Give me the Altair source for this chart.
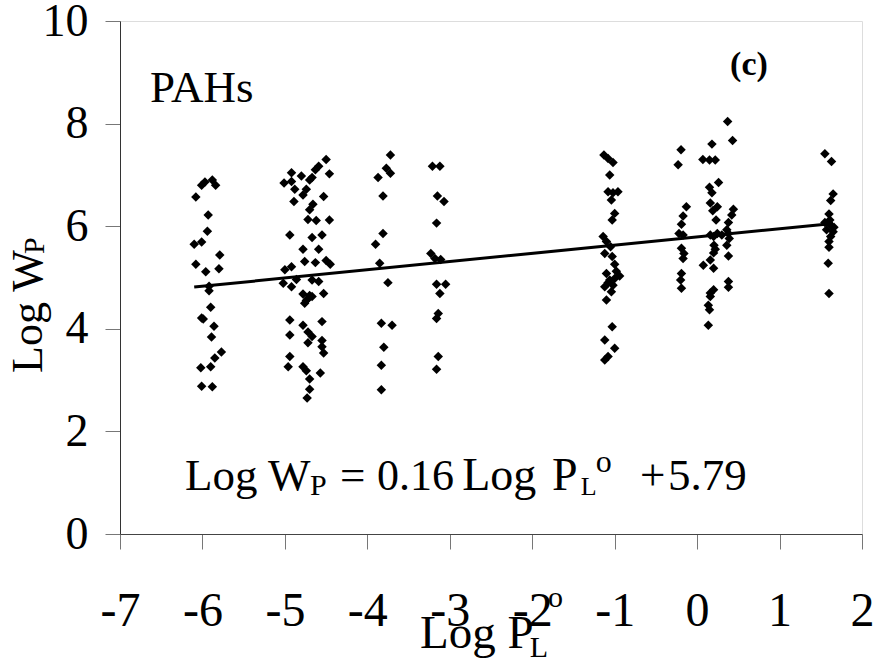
import altair as alt
import pandas as pd

# ---------------- data ----------------
# cluster near Log PL = -6
a_x = [-6.01, -5.97, -5.88, -5.84, -6.08, -5.93, -5.94, -6.10, -6.01, -5.79, -6.08, -5.96,
       -5.80, -5.92, -5.92, -5.90, -6.01, -5.99, -5.86, -5.89, -5.77, -5.85, -5.90, -6.02,
       -6.01, -5.88]
a_y = [6.80, 6.86, 6.90, 6.80, 6.57, 6.22, 5.90, 5.65, 5.69, 5.44, 5.26, 5.11,
       5.17, 4.83, 4.74, 4.42, 4.21, 4.19, 4.05, 3.84, 3.55, 3.43, 3.26, 3.24,
       2.88, 2.87]
# cluster near Log PL = -5 .. -4.5
b_x = [-4.50, -4.59, -4.63, -4.46, -4.92, -4.80, -4.67, -4.70, -5.01, -4.92, -4.88, -4.74,
       -4.78, -4.53, -4.89, -4.66, -4.70, -4.72, -4.62, -4.46, -4.94, -4.67, -4.55, -4.78,
       -4.59, -4.76, -4.63, -4.50, -4.45, -4.92, -5.00, -5.02, -4.92, -4.86, -4.67, -4.59,
       -4.78, -4.72, -4.76, -4.67, -4.53, -4.74, -4.70, -4.94, -4.78, -4.55, -4.94, -4.72,
       -4.67, -4.72, -4.55, -4.55, -4.53, -4.94, -4.96, -4.78, -4.74, -4.57, -4.70, -4.70,
       -4.73]
b_y = [7.30, 7.17, 7.10, 7.02, 7.04, 6.98, 6.95, 6.90, 6.84, 6.87, 6.72, 6.72,
       6.61, 6.58, 6.48, 6.43, 6.32, 6.13, 6.11, 6.12, 5.83, 5.78, 5.83, 5.55,
       5.55, 5.31, 5.29, 5.33, 5.26, 5.21, 5.15, 4.89, 4.82, 4.96, 4.95, 4.92,
       4.68, 4.59, 4.50, 4.63, 4.69, 4.55, 4.65, 4.17, 4.07, 4.14, 3.88, 3.94,
       3.85, 3.73, 3.77, 3.65, 3.53, 3.46, 3.26, 3.26, 3.18, 3.14, 3.02, 2.82,
       2.65]
# clusters near Log PL = -3.8 and -3.1
c_x = [-3.72, -3.77, -3.72, -3.87, -3.81, -3.81, -3.90, -3.85, -3.75, -3.83, -3.70, -3.80,
       -3.83, -3.83,
       -3.21, -3.12, -3.15, -3.07, -3.16, -3.23, -3.18, -3.11, -3.16, -3.05, -3.12, -3.14,
       -3.16, -3.14, -3.16]
c_y = [7.39, 7.13, 7.03, 6.95, 6.59, 5.86, 5.65, 5.28, 4.90, 4.11, 4.07, 3.64,
       3.29, 2.81,
       7.17, 7.17, 6.59, 6.48, 6.06, 5.47, 5.37, 5.35, 4.87, 4.87, 4.69, 4.30,
       4.20, 3.46, 3.21]
# cluster near Log PL = -1
d_x = [-1.13, -1.08, -1.02, -1.06, -1.08, -1.02, -0.96, -1.04, -1.00, -1.03, -1.14, -1.10,
       -1.05, -1.12, -1.03, -1.00, -0.94, -1.10, -1.06, -1.02, -1.12, -1.04, -1.10, -1.03,
       -1.12, -1.00, -1.08, -1.12, -1.00, -1.08, -0.98]
d_y = [7.39, 7.32, 7.24, 7.00, 6.67, 6.65, 6.67, 6.51, 6.25, 6.12, 5.80, 5.70,
       5.60, 5.47, 5.41, 5.26, 5.03, 5.08, 4.95, 4.85, 4.82, 4.72, 4.56, 4.04,
       3.78, 3.62, 3.46, 3.39, 4.98, 4.90, 5.12]
# cluster near Log PL = 0
e_x = [-0.195, -0.23, -0.13, -0.17, -0.19, -0.22, -0.17, -0.19, -0.16, -0.17, -0.19, -0.20,
       -0.19,
       0.18, 0.07, 0.15, 0.22, 0.26, 0.15, 0.18, 0.16, 0.245, 0.19, 0.23, 0.16,
       0.20, 0.245, 0.30, 0.205, 0.22, 0.20, 0.16, 0.075, 0.20, 0.16, 0.20, 0.16,
       0.136, 0.15, 0.136,
       0.37, 0.43, 0.44, 0.42, 0.38, 0.36, 0.38, 0.39, 0.36, 0.38, 0.38, 0.38]
e_y = [7.49, 7.20, 6.38, 6.20, 6.04, 5.86, 5.83, 5.57, 5.47, 5.37, 5.08, 4.95,
       4.79,
       7.60, 7.30, 7.29, 7.29, 6.85, 6.76, 6.65, 6.45, 6.38, 6.30, 6.12, 5.83,
       5.80, 5.86, 5.83, 5.63, 5.55, 5.48, 5.34, 5.24, 5.18, 4.70, 4.76, 4.63,
       4.46, 4.37, 4.07,
       8.04, 7.67, 6.33, 6.22, 6.07, 5.93, 5.86, 5.76, 5.63, 5.42, 4.92, 4.81]
# cluster near Log PL = 1.6
f_x = [1.55, 1.63, 1.65, 1.62, 1.60, 1.61, 1.55, 1.62, 1.66, 1.57, 1.65, 1.62,
       1.60, 1.60, 1.59, 1.60]
f_y = [7.41, 7.26, 6.63, 6.50, 6.24, 6.12, 6.07, 6.02, 5.98, 5.93, 5.89, 5.80,
       5.70, 5.59, 5.28, 4.69]

log_pl = a_x + b_x + c_x + d_x + e_x + f_x
log_wp = a_y + b_y + c_y + d_y + e_y + f_y

# regression line  Log WP = 0.16 Log PL + 5.79
slope = 0.16
intercept = 5.79
fit_x = [-6.1, 1.65]
fit_y = [slope * v + intercept for v in fit_x]

x_ticks = [-7, -6, -5, -4, -3, -2, -1, 0, 1, 2]
y_ticks = [0, 2, 4, 6, 8, 10]

# annotation texts (positions in data units)
normal_t = ["PAHs", "Log W", "=", "0.16", "Log", "P", "+", "5.79", "Log P"]
normal_x = [-6.636, -6.212, -4.331, -3.883, -2.850, -1.760, -0.692, -0.353, -3.361]
normal_y = [8.42, 0.858, 0.858, 0.858, 0.858, 0.858, 0.858, 0.858, -2.222]
normal_s = [45, 45, 45, 44, 46, 46, 45, 45, 47]

small_t = ["P", "L", "o", "L", "o"]
small_x = [-4.695, -1.410, -1.228, -2.030, -1.808]
small_y = [0.76, 0.76, 1.21, -2.40, -1.423]
small_s = [30, 26, 32, 30, 30]

bold_t = ["(c)"]
bold_x = [0.40]
bold_y = [8.95]
bold_s = [34]

rot_t = ["Log W", "P"]
rot_x = [-7.946, -7.922]
rot_y = [3.14, 5.46]
rot_s = [44, 30]

FONT = "Liberation Serif"

xs = alt.Scale(domain=[-7, 2], nice=False, zero=False)
ys = alt.Scale(domain=[0, 10], nice=False, zero=False)

pts = pd.DataFrame({"x": log_pl, "y": log_wp})
fit = pd.DataFrame({"x": fit_x, "y": fit_y})

points = alt.Chart(pts).mark_point(
    shape="diamond", filled=True, color="black", size=90, opacity=1
).encode(
    x=alt.X("x:Q", scale=xs, axis=alt.Axis(
        values=x_ticks, title="", grid=False, labelFont=FONT, labelFontSize=48,
        labelExpr="'' + datum.value",
        labelColor="black", tickSize=15, tickColor="#777", domainColor="#444",
        labelPadding=76, labelBaseline="alphabetic", labelFlush=False,
        labelOverlap=False, labelBound=False)),
    y=alt.Y("y:Q", scale=ys, axis=alt.Axis(
        values=y_ticks, title="", grid=False, labelFont=FONT, labelFontSize=46,
        labelExpr="'' + datum.value",
        labelColor="black", tickSize=15, tickColor="#777", domainColor="#333",
        labelPadding=17, labelFlush=False, labelOverlap=False, labelBound=False)),
)

line = alt.Chart(fit).mark_line(color="black", strokeWidth=3).encode(
    x=alt.X("x:Q", scale=xs), y=alt.Y("y:Q", scale=ys)
)


def text_layer(t, x, y, s, bold=False, angle=0):
    df = pd.DataFrame({"t": t, "x": x, "y": y, "s": s})
    return alt.Chart(df).mark_text(
        font=FONT, fontWeight="bold" if bold else "normal", align="left",
        baseline="alphabetic", angle=angle, color="black"
    ).encode(
        x=alt.X("x:Q", scale=xs), y=alt.Y("y:Q", scale=ys),
        text="t:N", size=alt.Size("s:Q", scale=None, legend=None)
    )


chart = alt.layer(
    points, line,
    text_layer(normal_t, normal_x, normal_y, normal_s),
    text_layer(small_t, small_x, small_y, small_s),
    text_layer(bold_t, bold_x, bold_y, bold_s, bold=True),
    text_layer(rot_t, rot_x, rot_y, rot_s, angle=270),
).properties(
    width=742, height=513,
    autosize=alt.AutoSizeParams(type="none"),
    padding={"left": 120, "top": 21, "right": 12, "bottom": 130},
).configure_view(
    stroke="#999", strokeDash=[2, 2], strokeWidth=1
).configure(background="white")

chart.save("out.html", embed_options={"renderer": "svg", "actions": False})
